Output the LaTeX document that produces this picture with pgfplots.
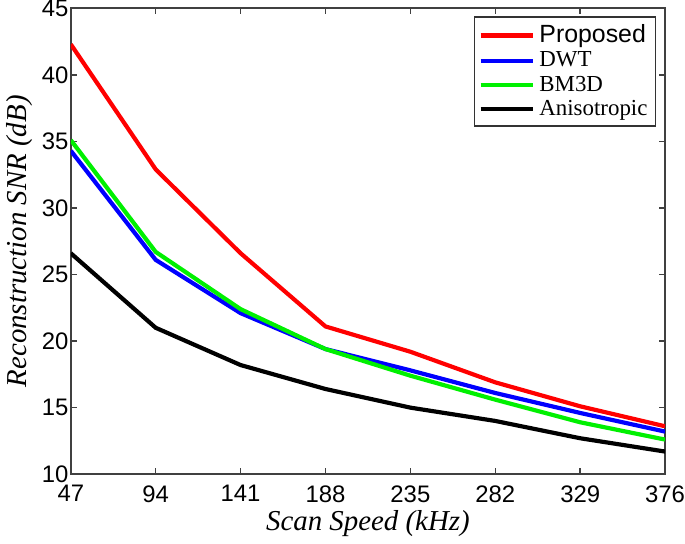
\documentclass[border=0pt]{standalone}
\usepackage{fontspec}
\setmainfont{Liberation Serif}
\setsansfont{Liberation Sans}
\usepackage{pgfplots}
\pgfplotsset{compat=1.18}
\begin{document}
\begin{tikzpicture}
\begin{axis}[
  scale only axis,
  width=298.5pt, height=234pt,
  xmin=47, xmax=376, ymin=10, ymax=45,
  xtick={47,94,141,188,235,282,329,376},
  ytick={10,15,20,25,30,35,40,45},
  tick align=inside,
  major tick length=3pt,
  axis line style={line width=1pt, black!75},
  every tick/.style={black!75, line width=0.7pt},
  /pgf/number format/assume math mode=true,
  ticklabel style={font=\sffamily\fontsize{12}{13}\selectfont},
  xticklabel style={inner xsep=0pt, inner ysep=1pt, yshift=-4.5pt},
  yticklabel style={inner ysep=0pt, inner xsep=1pt},
  xlabel={\itshape Scan Speed (kHz)},
  ylabel={\itshape Reconstruction SNR (dB)},
  label style={font=\fontsize{14.5}{16}\selectfont},
  xlabel style={yshift=0.5pt},
  ylabel style={yshift=0pt},
  legend style={at={(rel axis cs:0.985,0.983)}, anchor=north east,
    draw=black!80, line width=0.7pt, font=\fontsize{11.5}{13}\selectfont,
    inner sep=2pt, row sep=-1pt},
  legend cell align=left,
  legend image code/.code={\draw[#1, line width=2.1pt] (0cm,0cm) -- (0.93cm,0cm);},
  every axis plot/.append style={line width=2.1pt},
]
\addplot[color={rgb,255:red,255;green,0;blue,0}] coordinates {
(47,42.3) (94,32.9) (141,26.6) (188,21.1) (235,19.2) (282,16.9) (329,15.1) (376,13.6)};
\addlegendentry{\sffamily\fontsize{12.5}{13}\selectfont Proposed}
\addplot[color={rgb,255:red,0;green,0;blue,255}] coordinates {
(47,34.3) (94,26.1) (141,22.1) (188,19.4) (235,17.8) (282,16.1) (329,14.6) (376,13.2)};
\addlegendentry{DWT}
\addplot[color={rgb,255:red,0;green,240;blue,0}] coordinates {
(47,35.1) (94,26.7) (141,22.4) (188,19.4) (235,17.4) (282,15.6) (329,13.9) (376,12.6)};
\addlegendentry{BM3D}
\addplot[color=black] coordinates {
(47,26.6) (94,21.0) (141,18.2) (188,16.4) (235,15.0) (282,14.0) (329,12.7) (376,11.7)};
\addlegendentry{Anisotropic}
\end{axis}
\end{tikzpicture}
\end{document}
